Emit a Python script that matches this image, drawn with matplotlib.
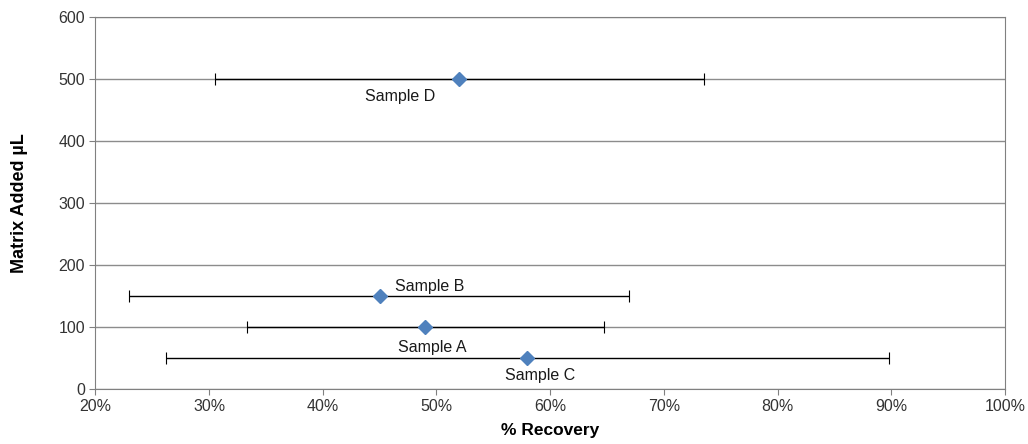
import matplotlib.pyplot as plt
from matplotlib.ticker import PercentFormatter

plt.rcParams['font.family'] = ['Liberation Sans', 'DejaVu Sans']

# data
samples = ['Sample A', 'Sample B', 'Sample C', 'Sample D']
recovery = [49.0, 45.0, 58.0, 52.0]          # % recovery
matrix_added = [100, 150, 50, 500]           # uL
err_low = [33.3, 23.0, 26.2, 30.5]           # lower end of error bar (%)
err_high = [64.7, 66.9, 89.8, 73.5]          # upper end of error bar (%)

# label offsets (pixels) relative to each point
label_offsets = [(7, -20), (50, 10), (13, -18), (-59, -17)]

fig = plt.figure(figsize=(10.28, 4.44), dpi=100)
ax = fig.add_axes([0.0927, 0.124, 0.885, 0.837])

xerr = [[r - lo for r, lo in zip(recovery, err_low)],
        [hi - r for r, hi in zip(recovery, err_high)]]
ax.errorbar(recovery, matrix_added, xerr=xerr, fmt='none', ecolor='black',
            elinewidth=1, capsize=4, capthick=0.8, zorder=3)
ax.plot(recovery, matrix_added, 'D', color='#4F81BD', markersize=7, zorder=4)

for name, x, y, off in zip(samples, recovery, matrix_added, label_offsets):
    ax.annotate(name, (x, y), xytext=off, textcoords='offset pixels',
                ha='center', va='center', fontsize=11.5, color='#1a1a1a')

ax.set_xlim(20, 100)
ax.set_ylim(0, 600)
ax.set_xticks(range(20, 101, 10))
ax.set_yticks(range(0, 601, 100))
ax.xaxis.set_major_formatter(PercentFormatter(decimals=0))
ax.grid(axis='y', color='#8c8c8c', linewidth=1)
ax.set_axisbelow(True)
for s in ax.spines.values():
    s.set_color('#808080')
ax.tick_params(colors='#808080', labelcolor='#333333', labelsize=11.5,
               length=4, direction='out')

ax.set_xlabel('% Recovery', fontsize=12.5, fontweight='bold', labelpad=6)
ax.set_ylabel('Matrix Added µL', fontsize=13, fontweight='bold', labelpad=22)

fig.savefig('out.png', dpi=100)
